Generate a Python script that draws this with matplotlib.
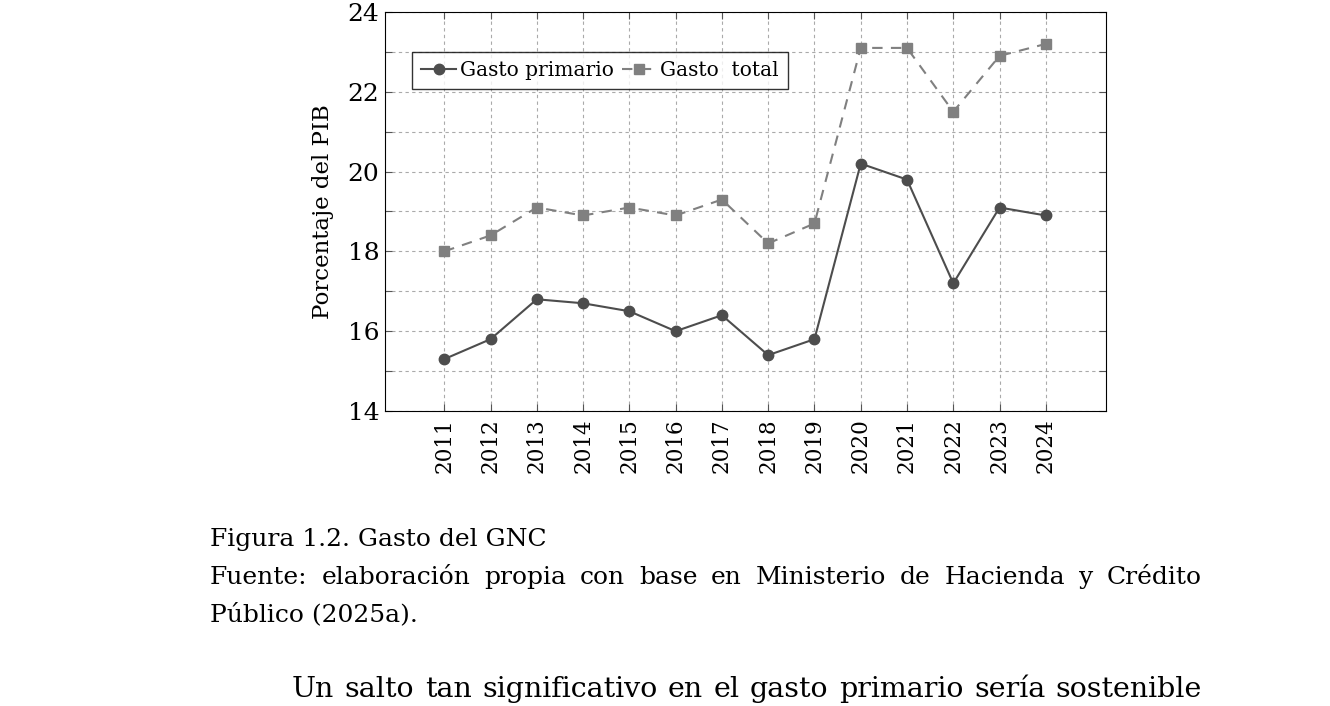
import matplotlib
matplotlib.use("Agg")
import matplotlib.pyplot as plt
from matplotlib.ticker import MultipleLocator

years = [2011, 2012, 2013, 2014, 2015, 2016, 2017, 2018, 2019, 2020, 2021, 2022, 2023, 2024]
gasto_primario = [15.3, 15.8, 16.8, 16.7, 16.5, 16.0, 16.4, 15.4, 15.8, 20.2, 19.8, 17.2, 19.1, 18.9]
gasto_total = [18.0, 18.4, 19.1, 18.9, 19.1, 18.9, 19.3, 18.2, 18.7, 23.1, 23.1, 21.5, 22.9, 23.2]
y_ticks = [14, 16, 18, 20, 22, 24]

FONT = "DejaVu Serif"
plt.rcParams["font.family"] = FONT

W, H = 1330, 706
fig = plt.figure(figsize=(W / 100, H / 100), dpi=100)
ax = fig.add_axes([385 / W, 1 - 411 / H, (1106 - 385) / W, (411 - 12) / H])

ax.plot(years, gasto_total, color="#808080", ls=(0, (5, 4)), lw=1.5,
        marker="s", ms=6.5, mfc="#808080", mec="#808080", label="Gasto  total", zorder=3)
ax.plot(years, gasto_primario, color="#4d4d4d", ls="-", lw=1.5,
        marker="o", ms=7.5, mfc="#4d4d4d", mec="#4d4d4d", label="Gasto primario", zorder=4)

ax.set_xlim(2009.72, 2025.3)
ax.set_ylim(14, 24)
ax.set_xticks(years)
ax.set_xticklabels([str(y) for y in years], rotation=90, fontsize=15.5)
ax.set_yticks(y_ticks)
ax.set_yticklabels([str(v) for v in y_ticks], fontsize=18)
ax.yaxis.set_minor_locator(MultipleLocator(1))
ax.tick_params(axis="both", which="both", direction="in", top=True, right=True,
               length=5, width=0.8, color="#555555")
ax.tick_params(axis="x", pad=5)
ax.tick_params(axis="y", pad=4)
ax.grid(True, which="both", color="#aaaaaa", ls=(0, (3, 3)), lw=0.8)
for s in ax.spines.values():
    s.set_linewidth(0.8)
    s.set_color("black")
ax.set_ylabel("Porcentaje del PIB", fontsize=16.5, labelpad=10)

handles, labels = ax.get_legend_handles_labels()
leg = ax.legend(handles[::-1], labels[::-1], loc="upper left", bbox_to_anchor=(0.038, 0.9),
                ncol=2, fontsize=14.5, frameon=True, fancybox=False, edgecolor="black",
                borderpad=0.45, handlelength=1.7, handletextpad=0.2, columnspacing=0.4,
                borderaxespad=0)
leg.get_frame().set_linewidth(1.0)


def justified(y, words, x0, x1, size):
    texts = [fig.text(0, y, w, fontsize=size, va="baseline", ha="left") for w in words]
    fig.canvas.draw()
    r = fig.canvas.get_renderer()
    widths = [t.get_window_extent(r).width for t in texts]
    gap = ((x1 - x0) - sum(widths)) / (len(words) - 1)
    x = x0
    for t, w in zip(texts, widths):
        t.set_x(x / W)
        x += w + gap


CAP = 18
fig.text(210 / W, 1 - 546 / H, "Figura 1.2. Gasto del GNC", fontsize=CAP, va="baseline")
justified(1 - 584 / H, "Fuente: elaboración propia con base en Ministerio de Hacienda y Crédito".split(),
          210, 1202, CAP)
fig.text(210 / W, 1 - 621 / H, "Público (2025a).", fontsize=CAP, va="baseline")
justified(1 - 697 / H, "Un salto tan significativo en el gasto primario sería sostenible".split(),
          292, 1202, 20.5)

fig.savefig("out.png", dpi=100)
